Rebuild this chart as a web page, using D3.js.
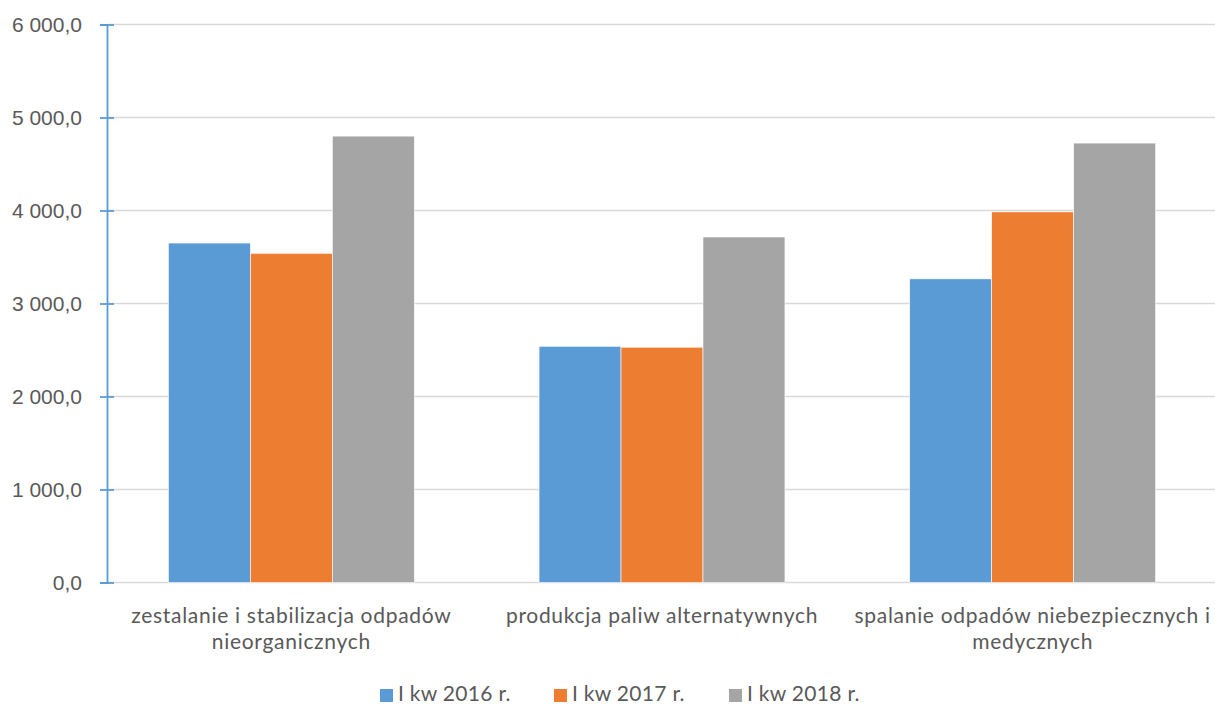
<!DOCTYPE html>
<html>
<head>
<meta charset="utf-8">
<title>Odpady</title>
<script src="https://cdn.jsdelivr.net/npm/d3@7"></script>
<style>
  body { margin: 0; background: #fff; }
  svg { display: block; font-family: Lato, "Open Sans", sans-serif; }
</style>
</head>
<body>
<div id="chart"></div>
<script>
// data
const categories = [
  ["zestalanie i stabilizacja odpadów", "nieorganicznych"],
  ["produkcja paliw alternatywnych"],
  ["spalanie odpadów niebezpiecznych i", "medycznych"]
];
const seriesNames = ["I kw 2016 r.", "I kw 2017 r.", "I kw 2018 r."];
const kw2016 = [3650, 2540, 3265];
const kw2017 = [3540, 2530, 3985];
const kw2018 = [4800, 3715, 4725];
const yTicks = [0, 1000, 2000, 3000, 4000, 5000, 6000];
const colors = ["#5b9bd5", "#ed7d31", "#a5a5a5"];

const width = 1215, height = 704;
const margin = {top: 24.5, right: -3, bottom: 121.5, left: 107};
const fs = "21px";

const svg = d3.select("#chart").append("svg")
  .attr("width", width)
  .attr("height", height);

const series = [kw2016, kw2017, kw2018];
const catIdx = categories.map((d, i) => i);

const x = d3.scaleBand()
  .domain(catIdx)
  .range([margin.left - 1, width - margin.right])
  .paddingInner(0.3366)
  .paddingOuter(0.1683);

const x1 = d3.scaleBand()
  .domain(d3.range(series.length))
  .range([0, x.bandwidth()]);

const y = d3.scaleLinear()
  .domain([0, 6000])
  .range([height - margin.bottom, margin.top]);

const fmt = v => d3.format(",.1f")(v).replace(/,/g, " ").replace(".", ",");

// gridlines
svg.append("g")
  .selectAll("line")
  .data(yTicks)
  .join("line")
  .attr("x1", margin.left)
  .attr("x2", width)
  .attr("y1", d => y(d))
  .attr("y2", d => y(d))
  .attr("stroke", "#d9d9d9")
  .attr("stroke-width", 1.5);

// bars
svg.append("g")
  .selectAll("g")
  .data(series)
  .join("g")
  .attr("fill", (d, i) => colors[i])
  .selectAll("rect")
  .data((vals, s) => vals.map((v, c) => ({v, c, s})))
  .join("rect")
  .attr("x", d => x(d.c) + x1(d.s))
  .attr("y", d => y(d.v))
  .attr("width", x1.bandwidth())
  .attr("height", d => y(0) - y(d.v))
  .attr("stroke", "#fff")
  .attr("stroke-width", 0.6);

// y axis
const yAxis = svg.append("g")
  .attr("transform", `translate(${margin.left},0)`)
  .call(d3.axisLeft(y).tickValues(yTicks).tickFormat(fmt).tickSize(7).tickPadding(18));
yAxis.select(".domain").attr("stroke", "#5b9bd5").attr("stroke-width", 1.8);
yAxis.selectAll(".tick line").attr("stroke", "#5b9bd5").attr("stroke-width", 1.8);
yAxis.selectAll(".tick").append("line")
  .attr("x1", 0).attr("x2", 7)
  .attr("stroke", "#5b9bd5").attr("stroke-width", 1.8);
yAxis.selectAll(".tick text")
  .attr("fill", "#595959")
  .attr("font-size", fs);

// category labels
const xl = svg.append("g");
categories.forEach((lines, i) => {
  const t = xl.append("text")
    .attr("x", x(i) + x.bandwidth() / 2)
    .attr("y", y(0) + 40)
    .attr("text-anchor", "middle")
    .attr("fill", "#595959")
    .attr("font-size", fs)
    .attr("letter-spacing", "0.7px");
  lines.forEach((ln, k) => {
    t.append("tspan")
      .attr("x", x(i) + x.bandwidth() / 2)
      .attr("dy", k === 0 ? 0 : 26)
      .text(ln);
  });
});

// legend
const legendX = [380, 554, 729];
const leg = svg.append("g");
seriesNames.forEach((name, i) => {
  leg.append("rect")
    .attr("x", legendX[i])
    .attr("y", 689)
    .attr("width", 13)
    .attr("height", 13)
    .attr("fill", colors[i]);
  leg.append("text")
    .attr("x", legendX[i] + 18)
    .attr("y", 701)
    .attr("fill", "#595959")
    .attr("font-size", fs)
    .attr("letter-spacing", "0.3px")
    .text(name);
});
</script>
</body>
</html>
